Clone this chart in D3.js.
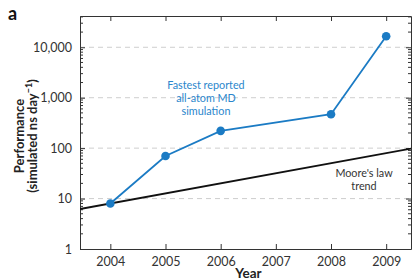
<!DOCTYPE html>
<html><head><meta charset="utf-8">
<script src="https://cdn.jsdelivr.net/npm/d3@7"></script>
<style>
html,body{margin:0;padding:0;background:#fff;}
svg{display:block;font-family:Lato,"Open Sans",sans-serif;}
</style></head>
<body>
<svg id="chart" width="416" height="280"></svg>
<script>
// Data
const years = [2004, 2005, 2006, 2008, 2009];
const fastestMD = [8, 70, 220, 470, 16500];
const mooreYears = [2003.45, 2009.45];
const mooreValues = [6.2, 98];
const xTicks = [2004, 2005, 2006, 2007, 2008, 2009];
const yTicks = [1, 10, 100, 1000, 10000];
const yTickLabels = ["1", "10", "100", "1,000", "10,000"];
const gridValues = [10, 100, 1000, 10000];
const xDomain = [2003.45, 2009.45];
const yDomain = [1, 41700];
const mdLabel = ["Fastest reported", "all-atom MD", "simulation"];
const mooreLabel = ["Moore's law", "trend"];

(function () {
const svg = d3.select("#chart");
const L = 80, R = 411, T = 16, B = 249;
const x = d3.scaleLinear().domain(xDomain).range([L, R]);
const y = d3.scaleLog().domain(yDomain).range([B, T]);

const blue = "#1b7bc4";
const axisCol = "#333";
const FONT = 'Lato,"Open Sans",sans-serif';

// grid
svg.append("g").selectAll("line").data(gridValues).join("line")
  .attr("x1", L).attr("x2", R)
  .attr("y1", d => y(d)).attr("y2", d => y(d))
  .attr("stroke", "#c8c8c8").attr("stroke-width", 0.9)
  .attr("stroke-dasharray", "5,4");

// minor ticks values
const minor = [];
for (let e = 0; e < 5; e++) for (let m = 2; m <= 9; m++) {
  const v = m * Math.pow(10, e);
  if (v <= yDomain[1]) minor.push(v);
}

// axes
const gLeft = svg.append("g").attr("transform", `translate(${L},0)`)
  .call(d3.axisLeft(y).tickValues(yTicks).tickFormat((d, i) => yTickLabels[i]).tickSizeInner(-5).tickSizeOuter(0).tickPadding(8));
gLeft.append("g").selectAll("line").data(minor).join("line")
  .attr("x1", 0).attr("x2", 3).attr("y1", d => y(d)).attr("y2", d => y(d))
  .attr("stroke", axisCol);

const gRight = svg.append("g").attr("transform", `translate(${R},0)`)
  .call(d3.axisRight(y).tickValues(yTicks).tickFormat("").tickSizeInner(-5).tickSizeOuter(0));
gRight.append("g").selectAll("line").data(minor).join("line")
  .attr("x1", 0).attr("x2", -3).attr("y1", d => y(d)).attr("y2", d => y(d))
  .attr("stroke", axisCol);

const gBottom = svg.append("g").attr("transform", `translate(0,${B})`)
  .call(d3.axisBottom(x).tickValues(xTicks).tickFormat(d3.format("d")).tickSizeInner(-5).tickSizeOuter(0).tickPadding(8));
const gTop = svg.append("g").attr("transform", `translate(0,${T})`)
  .call(d3.axisTop(x).tickValues(xTicks).tickFormat("").tickSizeInner(-5).tickSizeOuter(0));

[gLeft, gRight, gBottom, gTop].forEach(g => {
  g.select(".domain").attr("stroke", axisCol).attr("stroke-width", 1);
  g.selectAll(".tick line").attr("stroke", axisCol);
  g.selectAll(".tick text").attr("fill", "#333").attr("font-size", 12.5)
    .attr("font-family", FONT);
});

// clip
svg.append("clipPath").attr("id", "clip").append("rect")
  .attr("x", L).attr("y", T).attr("width", R - L).attr("height", B - T);

// Moore's law line
const moore = mooreYears.map((d, i) => [d, mooreValues[i]]);
svg.append("path").datum(moore).attr("clip-path", "url(#clip)")
  .attr("d", d3.line().x(d => x(d[0])).y(d => y(d[1])))
  .attr("fill", "none").attr("stroke", "#111").attr("stroke-width", 1.8);

// MD line
const md = years.map((d, i) => [d, fastestMD[i]]);
svg.append("path").datum(md)
  .attr("d", d3.line().x(d => x(d[0])).y(d => y(d[1])))
  .attr("fill", "none").attr("stroke", blue).attr("stroke-width", 1.8);
svg.append("g").selectAll("circle").data(md).join("circle")
  .attr("cx", d => x(d[0])).attr("cy", d => y(d[1])).attr("r", 4.3)
  .attr("fill", blue);

// annotations
svg.append("g").selectAll("text").data(mdLabel).join("text")
  .attr("text-anchor", "middle").attr("fill", "#2a86cc").attr("font-size", 10.8)
  .attr("x", 206).attr("y", (d, i) => 88.5 + i * 13).text(d => d);
svg.append("g").selectAll("text").data(mooreLabel).join("text")
  .attr("text-anchor", "middle").attr("fill", "#333").attr("font-size", 10.8)
  .attr("x", 364).attr("y", (d, i) => 177 + i * 13).text(d => d);

// panel label
svg.append("text").attr("x", 8).attr("y", 20).attr("font-weight", "bold")
  .attr("font-size", 18).attr("fill", "#111").text("a");

// axis titles
svg.append("text").attr("x", (L + R) / 2 + 3).attr("y", 278).attr("text-anchor", "middle")
  .attr("font-weight", "bold").attr("font-size", 13.5).attr("fill", "#222").text("Year");
const yl = svg.append("text").attr("transform", "translate(0,136) rotate(-90)")
  .attr("text-anchor", "middle").attr("font-weight", "bold").attr("font-size", 13).attr("fill", "#222");
yl.append("tspan").attr("x", 0).attr("y", 24).text("Performance");
const t2 = yl.append("tspan").attr("x", 0).attr("y", 37).text("(simulated ns day");
t2.append("tspan").attr("font-size", 9).attr("dy", -5).text("−1");
yl.append("tspan").attr("dy", 5).text(")");
})();
</script>
</body></html>
